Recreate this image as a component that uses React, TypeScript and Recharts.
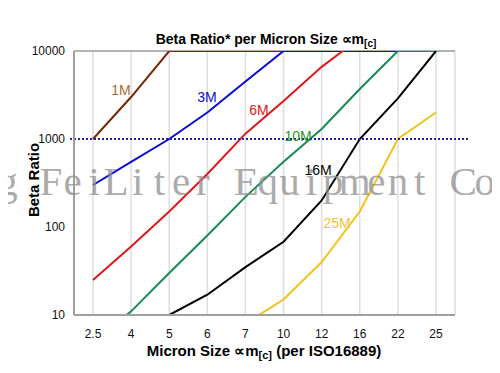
import React from "react";
import {
  LineChart,
  Line,
  XAxis,
  YAxis,
  CartesianGrid,
  ReferenceLine,
} from "recharts";

const categories = ["2.5", "4", "5", "6", "7", "10", "12", "16", "22", "25"];
const beta1M = [1000, 3000, 10000, 10000, 10000, 10000, null, null, null, null];
const beta3M = [300, 550, 1000, 2000, 4500, 10000, 10000, 10000, 10000, null];
const beta6M = [25, 60, 150, 400, 1150, 2700, 6600, 14000, null, null];
const beta10M = [5, 11, 30, 80, 220, 550, 1300, 3700, 10000, 10000];
const beta16M = [null, null, 10, 17, 35, 68, 200, 1000, 2900, 10000];
const beta25M = [null, null, null, null, 8, 15, 40, 150, 1000, 2000];
const yTicks = [10, 100, 1000, 10000];

const data = categories.map((c, i) => ({
  x: c,
  m1: beta1M[i],
  m3: beta3M[i],
  m6: beta6M[i],
  m10: beta10M[i],
  m16: beta16M[i],
  m25: beta25M[i],
}));

const FONT = "'Liberation Sans', Arial, sans-serif";
const W = 484;
const H = 357;

const watermark = "g FeiLiter Equipment Co.";
const wmX = watermark
  .split("")
  .map((_, i) => (-0.55 + 21.7 * i).toFixed(2))
  .join(" ");

const DottedLine = (props: any) => {
  const { x1, y1, x2, y2 } = props;
  return (
    <line
      x1={x1 - 4}
      y1={y1}
      x2={x2 + 13}
      y2={y2}
      stroke="#23239a"
      strokeWidth={2}
      strokeDasharray="2 2"
    />
  );
};

export default function App() {
  return (
    <div style={{ position: "relative", width: W, height: H, fontFamily: FONT }}>
      <LineChart
        width={W}
        height={H}
        data={data}
        margin={{ top: 43, right: 37, left: 0, bottom: 0 }}
      >
        <CartesianGrid stroke="#dedede" strokeWidth={1.5} />
        <XAxis
          dataKey="x"
          padding={{ left: 19, right: 19 }}
          interval={0}
          tickLine={false}
          tickSize={0}
          tickMargin={14}
          height={50}
          axisLine={{ stroke: "#a0a0a0", strokeWidth: 2 }}
          tick={{ fontSize: 12, fill: "#111", fontFamily: FONT }}
        />
        <YAxis
          yAxisId="l"
          scale="log"
          domain={[10, 10000]}
          ticks={yTicks}
          allowDataOverflow
          width={66}
          tickLine={false}
          tickSize={0}
          tickMargin={9}
          axisLine={{ stroke: "#a0a0a0", strokeWidth: 2 }}
          tick={{ fontSize: 12, fill: "#111", fontFamily: FONT }}
          interval={0}
        />
        <YAxis
          yAxisId="r"
          orientation="right"
          width={0}
          tick={false}
          tickLine={false}
          axisLine={{ stroke: "#a0a0a0", strokeWidth: 1.5 }}
        />
        <ReferenceLine yAxisId="l" y={10000} stroke="#a0a0a0" strokeWidth={1.5} />
        <Line yAxisId="l" dataKey="m1" stroke="#7c2508" strokeWidth={2} dot={false} isAnimationActive={false} />
        <Line yAxisId="l" dataKey="m3" stroke="#0b0bd8" strokeWidth={2} dot={false} isAnimationActive={false} />
        <Line yAxisId="l" dataKey="m6" stroke="#e01818" strokeWidth={2} dot={false} isAnimationActive={false} />
        <Line yAxisId="l" dataKey="m10" stroke="#178a55" strokeWidth={2} dot={false} isAnimationActive={false} />
        <Line yAxisId="l" dataKey="m16" stroke="#000000" strokeWidth={2} dot={false} isAnimationActive={false} />
        <Line yAxisId="l" dataKey="m25" stroke="#f2c319" strokeWidth={2} dot={false} isAnimationActive={false} />
        <ReferenceLine yAxisId="l" y={1000} shape={DottedLine} />
      </LineChart>
      <svg
        width={W}
        height={H}
        style={{ position: "absolute", left: 0, top: 0, pointerEvents: "none" }}
      >
        <text x={258} y={36} textAnchor="middle" fontFamily={FONT} fontWeight="bold" fontSize={14} fill="#000">
          Beta Ratio* per Micron Size ∝m
          <tspan fontSize={10} dy={3}>[c]</tspan>
        </text>
        <text x={256} y={348} textAnchor="middle" fontFamily={FONT} fontWeight="bold" fontSize={15} fill="#000">
          Micron Size ∝m
          <tspan fontSize={11} dy={3}>[c]</tspan>
          <tspan dy={-3}> (per ISO16889)</tspan>
        </text>
        <text
          x={25}
          y={172}
          textAnchor="middle"
          dominantBaseline="central"
          transform="rotate(-90 25 172)"
          fontFamily={FONT}
          fontWeight="bold"
          fontSize={15}
          fill="#000"
        >
          Beta Ratio
        </text>
        <g fontFamily={FONT} fontSize={14} textAnchor="middle" dominantBaseline="central">
          <text x={113} y={82} fill="#a8692c">1M</text>
          <text x={199} y={89} fill="#0b0bd8">3M</text>
          <text x={251} y={102} fill="#e01818">6M</text>
          <text x={290} y={128} fill="#2a9a2a">10M</text>
          <text x={310} y={162} fill="#000">16M</text>
          <text x={329} y={215} fill="#f2c33a">25M</text>
        </g>
        <text
          x={wmX}
          y={187}
          textAnchor="middle"
          fontFamily="'Liberation Serif', 'Times New Roman', serif"
          fontSize={41}
          fill="#8f8f8f"
          opacity={0.75}
        >
          {watermark}
        </text>
      </svg>
    </div>
  );
}
